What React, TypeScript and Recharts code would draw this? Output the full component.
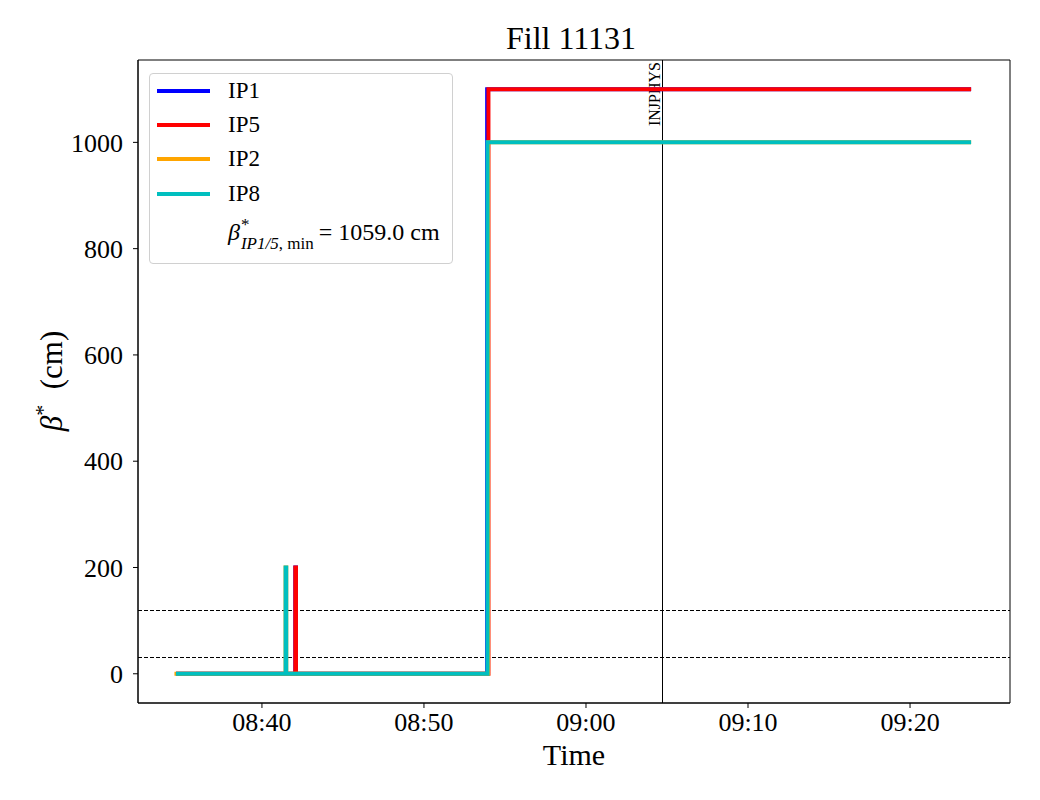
import React from "react";
import { LineChart, Line, XAxis, YAxis, ReferenceLine, ReferenceArea } from "recharts";

// time in minutes after 08:00
const ip1Time = [34.69, 42.06, 42.1, 53.9, 83.77];
const ip1Beta = [0, 200, 0, 1100, 1100];
const ip5Time = [34.69, 42.06, 42.1, 53.98, 83.77];
const ip5Beta = [0, 200, 0, 1100, 1100];
const ip2Time = [34.6, 41.46, 41.5, 53.96, 83.77];
const ip2Beta = [0, 200, 0, 1000, 1000];
const ip8Time = [34.69, 41.46, 41.5, 53.92, 83.77];
const ip8Beta = [0, 200, 0, 1000, 1000];

const xTicks = [40, 50, 60, 70, 80];
const xTickLabels = ["08:40", "08:50", "09:00", "09:10", "09:20"];
const yTicks = [0, 200, 400, 600, 800, 1000];
const thresholds = [120, 30];
const injPhysTime = 64.75;
const betaMin = "1059.0";

const seriesNames = ["IP1", "IP5", "IP2", "IP8"];
const seriesColors = ["#0000ff", "#ff0000", "#ffa500", "#00bfbf"];

const toData = (t: number[], v: number[]) => t.map((x, i) => ({ t: x, v: v[i] }));
const seriesData = [
  toData(ip1Time, ip1Beta),
  toData(ip5Time, ip5Beta),
  toData(ip2Time, ip2Beta),
  toData(ip8Time, ip8Beta),
];

const FONT = "'Liberation Serif', 'Times New Roman', serif";
const xDomain: [number, number] = [32.35, 86.17];
const yDomain: [number, number] = [-55, 1155];

const InjLabel = (props: any) => {
  const vb = props.viewBox || {};
  const px = vb.x - 3;
  const py = vb.y + 2;
  return (
    <text
      x={px}
      y={py}
      transform={`rotate(-90, ${px}, ${py})`}
      textAnchor="end"
      fontFamily={FONT}
      fontSize={16}
      fill="black"
    >
      INJPHYS
    </text>
  );
};

export default function App() {
  return (
    <div style={{ position: "absolute", left: 0, top: 0, width: 1040, height: 800, background: "white" }}>
      <LineChart width={1040} height={800} margin={{ top: 60, right: 30, left: 0, bottom: 0 }}>
        <XAxis
          dataKey="t"
          type="number"
          domain={xDomain}
          allowDataOverflow
          ticks={xTicks}
          tickFormatter={(v: number) => xTickLabels[xTicks.indexOf(v)] ?? ""}
          height={97}
          stroke="black"
          tickSize={5}
          tickMargin={5}
          tick={{ fill: "black", fontFamily: FONT, fontSize: 26 }}
        />
        <YAxis
          type="number"
          domain={yDomain}
          allowDataOverflow
          ticks={yTicks}
          width={138}
          stroke="black"
          tickSize={5}
          tickMargin={10}
          tick={{ fill: "black", fontFamily: FONT, fontSize: 26 }}
        />
        <ReferenceArea x1={xDomain[0]} x2={xDomain[1]} y1={yDomain[0]} y2={yDomain[1]} fill="none" fillOpacity={0} stroke="black" strokeWidth={1} />
        {thresholds.map((y) => (
          <ReferenceLine key={y} y={y} stroke="#000" strokeWidth={1} strokeDasharray="4 2" shapeRendering="crispEdges" />
        ))}
        <ReferenceLine x={injPhysTime} stroke="#000" strokeWidth={1} shapeRendering="crispEdges" label={<InjLabel />} />
        {seriesData.map((d, i) => (
          <Line
            key={seriesNames[i]}
            data={d}
            dataKey="v"
            name={seriesNames[i]}
            type="stepAfter"
            stroke={seriesColors[i]}
            strokeWidth={4}
            dot={false}
            activeDot={false}
            isAnimationActive={false}
          />
        ))}
      </LineChart>
      <svg width={1040} height={800} style={{ position: "absolute", left: 0, top: 0, pointerEvents: "none" }}>
        <text x={571} y={49} textAnchor="middle" fontFamily={FONT} fontSize={32} fill="black">
          Fill 11131
        </text>
        <text x={574} y={765} textAnchor="middle" fontFamily={FONT} fontSize={30} fill="black">
          Time
        </text>
        <text
          x={62}
          y={381}
          transform="rotate(-90, 62, 381)"
          textAnchor="middle"
          fontFamily={FONT}
          fontSize={31}
          fill="black"
        >
          <tspan fontStyle="italic">β</tspan>
          <tspan dy={-12} fontSize={22}>*</tspan>
          <tspan dy={12}>{"\u00a0\u00a0(cm)"}</tspan>
        </text>
      </svg>
      <div
        style={{
          position: "absolute",
          left: 149,
          top: 73,
          width: 302,
          height: 189,
          border: "1px solid #d0d0d0",
          borderRadius: 4,
          background: "white",
          fontFamily: FONT,
          fontSize: 23,
          color: "black",
        }}
      >
        {seriesNames.map((n, i) => (
          <div key={n} style={{ position: "absolute", left: 0, top: [17, 51, 85, 120][i] - 13, height: 26, width: 300 }}>
            <div style={{ position: "absolute", left: 7, top: 11, width: 53, height: 4, background: seriesColors[i] }} />
            <div style={{ position: "absolute", left: 78, top: 0, lineHeight: "26px" }}>{n}</div>
          </div>
        ))}
        <div style={{ position: "absolute", left: 78, top: 140, lineHeight: "36px", whiteSpace: "nowrap", fontSize: 24 }}>
          <span style={{ fontStyle: "italic" }}>β</span>
          <span
            style={{
              display: "inline-flex",
              flexDirection: "column",
              verticalAlign: "middle",
              fontSize: 17,
              lineHeight: "19px",
              marginLeft: 1,
            }}
          >
            <span>*</span>
            <span>
              <i>IP1/5</i>, min
            </span>
          </span>
          <span style={{ marginLeft: 5 }}>=</span>
          <span style={{ marginLeft: 6 }}>{betaMin} cm</span>
        </div>
      </div>
    </div>
  );
}
